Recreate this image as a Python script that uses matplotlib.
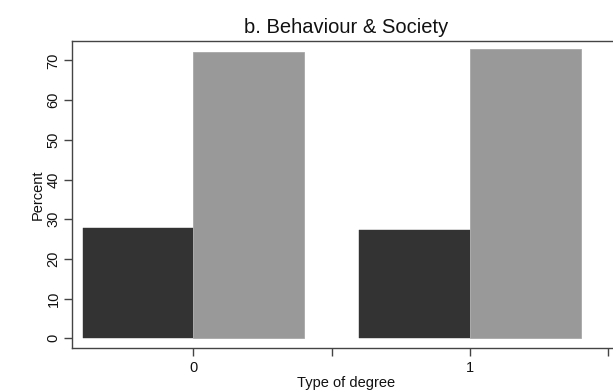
import matplotlib
matplotlib.use("Agg")
import matplotlib.pyplot as plt
import numpy as np

plt.rcParams['font.family'] = ['Liberation Sans', 'DejaVu Sans']

# Share (%) by type of degree
degree_types = [0, 1]
share_dark = [27.9, 27.2]
share_gray = [72.1, 72.8]
xtick_labels = ["0", "1"]

title = "b. Behaviour & Society"
xlabel = "Type of degree"
ylabel = "Percent"

fig = plt.figure(figsize=(6.13, 3.90), dpi=100)
ax = fig.add_axes([0.118, 0.1085, 0.8924, 0.7864])

x = np.array(degree_types, dtype=float)
w = 0.4
ax.bar(x - w / 2, share_dark, width=w, color="#333333", edgecolor="#333333", linewidth=0.3)
ax.bar(x + w / 2, share_gray, width=w, color="#999999", edgecolor="#a8a8a8", linewidth=0.6)

ax.set_xlim(-0.437, 1.54)
ax.set_ylim(-2.37, 74.9)

ax.set_xticks([0, 0.5, 1, 1.5])
ax.set_xticklabels([xtick_labels[0], "", xtick_labels[1], ""])
ax.set_yticks(np.arange(0, 71, 10))
ax.set_yticklabels([str(v) for v in range(0, 71, 10)], rotation=90, va="center")

spine_col = "#444444"
for side in ["left", "bottom", "top"]:
    ax.spines[side].set_color(spine_col)
    ax.spines[side].set_linewidth(1.0)
ax.spines["right"].set_visible(False)

ax.tick_params(axis="both", direction="out", length=5.5, width=1.0, color=spine_col,
               labelsize=10.5, labelcolor="#111111")
ax.tick_params(axis="x", pad=4)
ax.tick_params(axis="y", pad=3)

ax.set_xlabel(xlabel, fontsize=10.5, color="#111111", labelpad=1)
ax.set_ylabel(ylabel, fontsize=10.5, color="#111111", labelpad=1)
ax.set_title(title, fontsize=14.5, color="#111111", pad=6)

fig.savefig("out.png", dpi=100)
